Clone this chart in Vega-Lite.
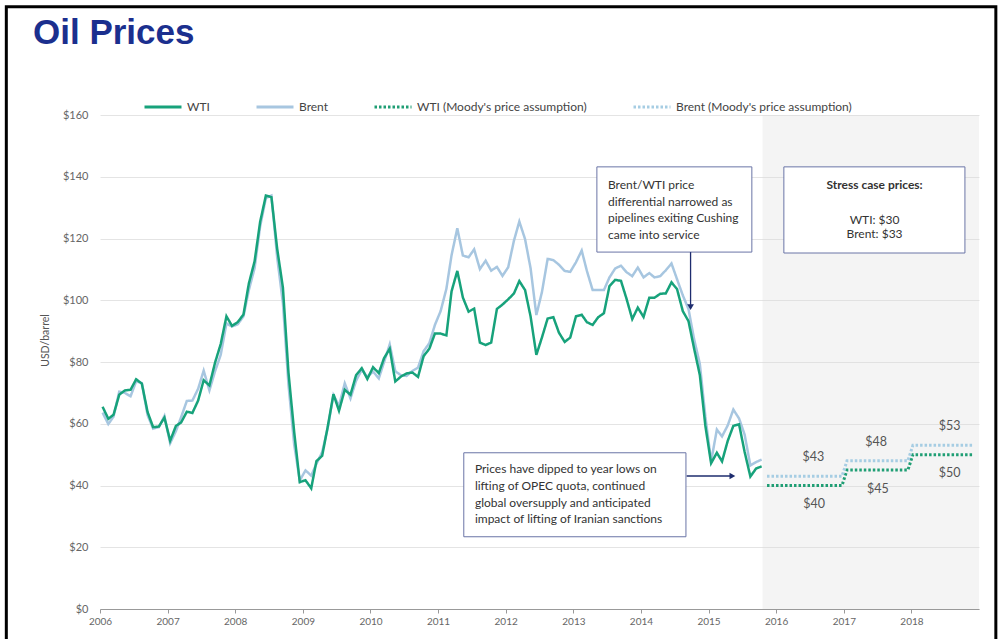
{
  "$schema": "https://vega.github.io/schema/vega-lite/v6.json",
  "width": 879,
  "height": 494,
  "autosize": "none",
  "padding": {"left": 100, "top": 115, "right": 24, "bottom": 30},
  "background": "white",
  "title": {"text": "Oil Prices", "anchor": "start", "frame": "group", "dx": -67, "offset": -74, "baseline": "alphabetic", "font": "Liberation Sans", "fontSize": 35, "fontWeight": "bold", "color": "#1b2f8e"},
  "config": {
    "view": {"stroke": null},
    "legend": {"symbolType": "stroke", "symbolSize": 1369, "symbolStrokeWidth": 3, "columnPadding": 40, "labelFont": "Lato", "labelFontSize": 12, "labelColor": "#444", "labelOffset": 4, "labelLimit": 400, "title": null}
  },
  "datasets": {
    "hist": [
      {"d":"2006-01-15","WTI":65.5,"Brent":63.6},{"d":"2006-02-15","WTI":61.6,"Brent":59.9},{"d":"2006-03-15","WTI":62.9,"Brent":62.3},{"d":"2006-04-15","WTI":69.4,"Brent":70.4},{"d":"2006-05-15","WTI":70.8,"Brent":70.0},{"d":"2006-06-15","WTI":71.0,"Brent":68.9},{"d":"2006-07-15","WTI":74.4,"Brent":73.7},{"d":"2006-08-15","WTI":73.0,"Brent":73.2},{"d":"2006-09-15","WTI":63.8,"Brent":62.8},{"d":"2006-10-15","WTI":58.9,"Brent":58.4},{"d":"2006-11-15","WTI":59.1,"Brent":58.9},{"d":"2006-12-15","WTI":62.0,"Brent":62.5},
      {"d":"2007-01-15","WTI":54.5,"Brent":53.7},{"d":"2007-02-15","WTI":59.3,"Brent":57.6},{"d":"2007-03-15","WTI":60.4,"Brent":62.1},{"d":"2007-04-15","WTI":63.9,"Brent":67.4},{"d":"2007-05-15","WTI":63.5,"Brent":67.5},{"d":"2007-06-15","WTI":67.5,"Brent":71.3},{"d":"2007-07-15","WTI":74.1,"Brent":77.2},{"d":"2007-08-15","WTI":72.4,"Brent":70.8},{"d":"2007-09-15","WTI":79.9,"Brent":77.1},{"d":"2007-10-15","WTI":85.8,"Brent":82.3},{"d":"2007-11-15","WTI":94.8,"Brent":92.5},{"d":"2007-12-15","WTI":91.7,"Brent":91.5},
      {"d":"2008-01-15","WTI":92.9,"Brent":92.2},{"d":"2008-02-15","WTI":95.4,"Brent":94.8},{"d":"2008-03-15","WTI":105.4,"Brent":103.3},{"d":"2008-04-15","WTI":112.6,"Brent":110.4},{"d":"2008-05-15","WTI":125.4,"Brent":123.9},{"d":"2008-06-15","WTI":133.9,"Brent":133.1},{"d":"2008-07-15","WTI":133.4,"Brent":133.9},{"d":"2008-08-15","WTI":116.7,"Brent":113.9},{"d":"2008-09-15","WTI":104.1,"Brent":99.1},{"d":"2008-10-15","WTI":76.6,"Brent":72.7},{"d":"2008-11-15","WTI":57.3,"Brent":53.2},{"d":"2008-12-15","WTI":41.1,"Brent":41.6},
      {"d":"2009-01-15","WTI":41.7,"Brent":44.9},{"d":"2009-02-15","WTI":39.1,"Brent":43.2},{"d":"2009-03-15","WTI":47.9,"Brent":47.0},{"d":"2009-04-15","WTI":49.6,"Brent":50.8},{"d":"2009-05-15","WTI":59.0,"Brent":58.6},{"d":"2009-06-15","WTI":69.6,"Brent":69.3},{"d":"2009-07-15","WTI":64.2,"Brent":65.8},{"d":"2009-08-15","WTI":71.0,"Brent":73.1},{"d":"2009-09-15","WTI":69.4,"Brent":68.2},{"d":"2009-10-15","WTI":75.7,"Brent":73.9},{"d":"2009-11-15","WTI":78.0,"Brent":77.5},{"d":"2009-12-15","WTI":74.5,"Brent":75.2},
      {"d":"2010-01-15","WTI":78.3,"Brent":76.9},{"d":"2010-02-15","WTI":76.4,"Brent":74.7},{"d":"2010-03-15","WTI":81.2,"Brent":79.9},{"d":"2010-04-15","WTI":84.3,"Brent":85.7},{"d":"2010-05-15","WTI":73.7,"Brent":77.0},{"d":"2010-06-15","WTI":75.3,"Brent":75.7},{"d":"2010-07-15","WTI":76.3,"Brent":75.5},{"d":"2010-08-15","WTI":76.6,"Brent":77.1},{"d":"2010-09-15","WTI":75.2,"Brent":78.2},{"d":"2010-10-15","WTI":81.9,"Brent":83.5},{"d":"2010-11-15","WTI":84.3,"Brent":86.1},{"d":"2010-12-15","WTI":89.2,"Brent":92.0},
      {"d":"2011-01-15","WTI":89.2,"Brent":96.5},{"d":"2011-02-15","WTI":88.6,"Brent":103.7},{"d":"2011-03-15","WTI":102.9,"Brent":114.6},{"d":"2011-04-15","WTI":109.5,"Brent":123.3},{"d":"2011-05-15","WTI":100.9,"Brent":114.5},{"d":"2011-06-15","WTI":96.3,"Brent":113.9},{"d":"2011-07-15","WTI":97.3,"Brent":116.5},{"d":"2011-08-15","WTI":86.3,"Brent":110.1},{"d":"2011-09-15","WTI":85.5,"Brent":112.8},{"d":"2011-10-15","WTI":86.3,"Brent":109.6},{"d":"2011-11-15","WTI":97.2,"Brent":110.8},{"d":"2011-12-15","WTI":98.6,"Brent":107.9},
      {"d":"2012-01-15","WTI":100.3,"Brent":110.7},{"d":"2012-02-15","WTI":102.2,"Brent":119.3},{"d":"2012-03-15","WTI":106.2,"Brent":125.5},{"d":"2012-04-15","WTI":103.3,"Brent":119.8},{"d":"2012-05-15","WTI":94.7,"Brent":110.3},{"d":"2012-06-15","WTI":82.3,"Brent":95.2},{"d":"2012-07-15","WTI":87.9,"Brent":102.6},{"d":"2012-08-15","WTI":94.1,"Brent":113.4},{"d":"2012-09-15","WTI":94.5,"Brent":113.0},{"d":"2012-10-15","WTI":89.5,"Brent":111.5},{"d":"2012-11-15","WTI":86.5,"Brent":109.5},{"d":"2012-12-15","WTI":87.9,"Brent":109.2},
      {"d":"2013-01-15","WTI":94.8,"Brent":112.3},{"d":"2013-02-15","WTI":95.3,"Brent":116.1},{"d":"2013-03-15","WTI":92.9,"Brent":109.5},{"d":"2013-04-15","WTI":92.0,"Brent":103.3},{"d":"2013-05-15","WTI":94.5,"Brent":103.3},{"d":"2013-06-15","WTI":95.8,"Brent":103.3},{"d":"2013-07-15","WTI":104.6,"Brent":107.4},{"d":"2013-08-15","WTI":106.6,"Brent":110.3},{"d":"2013-09-15","WTI":106.3,"Brent":111.2},{"d":"2013-10-15","WTI":100.5,"Brent":109.1},{"d":"2013-11-15","WTI":93.9,"Brent":107.8},{"d":"2013-12-15","WTI":97.6,"Brent":110.6},
      {"d":"2014-01-15","WTI":94.6,"Brent":107.4},{"d":"2014-02-15","WTI":100.8,"Brent":108.8},{"d":"2014-03-15","WTI":100.8,"Brent":107.4},{"d":"2014-04-15","WTI":102.1,"Brent":107.8},{"d":"2014-05-15","WTI":102.2,"Brent":109.7},{"d":"2014-06-15","WTI":105.8,"Brent":111.9},{"d":"2014-07-15","WTI":103.6,"Brent":106.8},{"d":"2014-08-15","WTI":96.5,"Brent":101.6},{"d":"2014-09-15","WTI":93.2,"Brent":97.1},{"d":"2014-10-15","WTI":84.4,"Brent":87.4},{"d":"2014-11-15","WTI":75.8,"Brent":79.4},{"d":"2014-12-15","WTI":59.3,"Brent":62.3},
      {"d":"2015-01-15","WTI":47.2,"Brent":47.8},{"d":"2015-02-15","WTI":50.6,"Brent":58.1},{"d":"2015-03-15","WTI":47.8,"Brent":55.9},{"d":"2015-04-15","WTI":54.5,"Brent":59.5},{"d":"2015-05-15","WTI":59.3,"Brent":64.6},{"d":"2015-06-15","WTI":59.8,"Brent":61.7},{"d":"2015-07-15","WTI":50.9,"Brent":56.5},{"d":"2015-08-15","WTI":42.9,"Brent":46.5},{"d":"2015-09-15","WTI":45.5,"Brent":47.6},{"d":"2015-10-15","WTI":46.2,"Brent":48.4}
    ],
    "proj": [
      {"d":"2015-11-13","series":"WTI (Moody's price assumption)","price":40},
      {"d":"2016-12-22","series":"WTI (Moody's price assumption)","price":40},
      {"d":"2017-01-18","series":"WTI (Moody's price assumption)","price":45},
      {"d":"2017-12-13","series":"WTI (Moody's price assumption)","price":45},
      {"d":"2018-01-09","series":"WTI (Moody's price assumption)","price":50},
      {"d":"2018-11-29","series":"WTI (Moody's price assumption)","price":50},
      {"d":"2015-11-13","series":"Brent (Moody's price assumption)","price":43},
      {"d":"2016-12-22","series":"Brent (Moody's price assumption)","price":43},
      {"d":"2017-01-18","series":"Brent (Moody's price assumption)","price":48},
      {"d":"2017-12-13","series":"Brent (Moody's price assumption)","price":48},
      {"d":"2018-01-09","series":"Brent (Moody's price assumption)","price":53},
      {"d":"2018-11-29","series":"Brent (Moody's price assumption)","price":53}
    ],
    "labels": [
      {"d":"2016-07-20","series":"Brent (Moody's price assumption)","price":43},
      {"d":"2016-07-24","series":"WTI (Moody's price assumption)","price":40},
      {"d":"2017-06-24","series":"Brent (Moody's price assumption)","price":48},
      {"d":"2017-07-04","series":"WTI (Moody's price assumption)","price":45},
      {"d":"2018-07-26","series":"Brent (Moody's price assumption)","price":53},
      {"d":"2018-07-26","series":"WTI (Moody's price assumption)","price":50}
    ],
    "forecast": [{"start":"2015-10-20","end":"2019-01-01"}]
  },
  "layer": [
    {
      "data": {"name": "forecast"},
      "mark": {"type": "rect", "fill": "#d9d9d9", "opacity": 0.3},
      "encoding": {
        "x": {"field": "start", "type": "temporal", "scale": {"domain": [{"year":2006,"month":1,"date":1},{"year":2019,"month":1,"date":1}]},
          "axis": {"values": [{"year":2006},{"year":2007},{"year":2008},{"year":2009},{"year":2010},{"year":2011},{"year":2012},{"year":2013},{"year":2014},{"year":2015},{"year":2016},{"year":2017},{"year":2018}],
            "format": "%Y", "title": null, "grid": false, "domainColor": "#999", "tickColor": "#999", "tickSize": 4, "labelFont": "Lato", "labelFontSize": 10, "labelColor": "#666", "labelPadding": 3, "labelFlush": false}},
        "x2": {"field": "end"},
        "y": {"datum": 0, "type": "quantitative", "scale": {"domain": [0, 160], "nice": false},
          "axis": {"values": [0,20,40,60,80,100,120,140,160], "format": "$,.0f", "title": "USD/barrel", "grid": true, "gridColor": "#e4e4e4", "ticks": false, "domain": false, "labelPadding": 12, "labelFont": "Lato", "labelFontSize": 11, "labelColor": "#666", "titleFont": "Lato", "titleFontSize": 10.5, "titleFontWeight": "normal", "titleColor": "#555", "titleX": -50, "titleY": 225}},
        "y2": {"datum": 160}
      }
    },
    {
      "data": {"name": "hist"},
      "transform": [{"fold": ["WTI", "Brent"], "as": ["series", "price"]}, {"filter": "datum.series == 'Brent'"}],
      "mark": {"type": "line", "strokeWidth": 2.5},
      "encoding": {
        "x": {"field": "d", "type": "temporal"},
        "y": {"field": "price", "type": "quantitative"},
        "color": {"field": "series", "type": "nominal",
          "scale": {"domain": ["WTI", "Brent", "WTI (Moody's price assumption)", "Brent (Moody's price assumption)"], "range": ["#17a27b", "#a7c6e0", "#1f9e74", "#a6cde3"]},
          "legend": {"orient": "none", "direction": "horizontal", "legendX": 43, "legendY": -28}},
        "strokeDash": {"field": "series", "type": "nominal",
          "scale": {"domain": ["WTI", "Brent", "WTI (Moody's price assumption)", "Brent (Moody's price assumption)"], "range": [[1,0],[1,0],[2.5,2],[2.5,2]]},
          "legend": {"orient": "none", "direction": "horizontal", "legendX": 43, "legendY": -28}}
      }
    },
    {
      "data": {"name": "hist"},
      "transform": [{"fold": ["WTI", "Brent"], "as": ["series", "price"]}, {"filter": "datum.series == 'WTI'"}],
      "mark": {"type": "line", "strokeWidth": 2.5},
      "encoding": {
        "x": {"field": "d", "type": "temporal"},
        "y": {"field": "price", "type": "quantitative"},
        "color": {"field": "series", "type": "nominal"},
        "strokeDash": {"field": "series", "type": "nominal"}
      }
    },
    {
      "data": {"name": "proj"},
      "mark": {"type": "line", "strokeWidth": 3},
      "encoding": {
        "x": {"field": "d", "type": "temporal"},
        "y": {"field": "price", "type": "quantitative"},
        "color": {"field": "series", "type": "nominal"},
        "strokeDash": {"field": "series", "type": "nominal"}
      }
    },
    {
      "data": {"name": "labels"},
      "transform": [{"filter": "indexof(datum.series, 'Brent') == 0"}],
      "mark": {"type": "text", "dy": -19, "font": "Lato", "fontSize": 12.5, "color": "#555"},
      "encoding": {
        "x": {"field": "d", "type": "temporal"},
        "y": {"field": "price", "type": "quantitative"},
        "text": {"field": "price", "type": "quantitative", "format": "$,.0f"}
      }
    },
    {
      "data": {"name": "labels"},
      "transform": [{"filter": "indexof(datum.series, 'WTI') == 0"}],
      "mark": {"type": "text", "dy": 18.5, "font": "Lato", "fontSize": 12.5, "color": "#555"},
      "encoding": {
        "x": {"field": "d", "type": "temporal"},
        "y": {"field": "price", "type": "quantitative"},
        "text": {"field": "price", "type": "quantitative", "format": "$,.0f"}
      }
    },
    {
      "data": {"values": [{}]},
      "mark": {"type": "rect", "fill": "white", "stroke": "#6a74a6", "strokeWidth": 1},
      "encoding": {
        "x": {"datum": {"year":2013,"month":5,"date":8}}, "x2": {"datum": {"year":2015,"month":8,"date":23}},
        "y": {"datum": 143.2}, "y2": {"datum": 115.6}
      }
    },
    {
      "data": {"values": [{}]},
      "mark": {"type": "rect", "fill": "white", "stroke": "#6a74a6", "strokeWidth": 1},
      "encoding": {
        "x": {"datum": {"year":2016,"month":2,"date":12}}, "x2": {"datum": {"year":2018,"month":10,"date":17}},
        "y": {"datum": 143.2}, "y2": {"datum": 115.3}
      }
    },
    {
      "data": {"values": [{}]},
      "mark": {"type": "rect", "fill": "white", "stroke": "#6a74a6", "strokeWidth": 1},
      "encoding": {
        "x": {"datum": {"year":2011,"month":5,"date":20}}, "x2": {"datum": {"year":2014,"month":9,"date":1}},
        "y": {"datum": 50.6}, "y2": {"datum": 23.4}
      }
    },
    {
      "data": {"values": [{}]},
      "mark": {"type": "text", "text": ["Brent/WTI price", "differential narrowed as", "pipelines exiting Cushing", "came into service"], "align": "left", "baseline": "alphabetic", "lineHeight": 16.5, "font": "Lato", "fontSize": 12, "color": "#333"},
      "encoding": {"x": {"datum": {"year":2013,"month":7,"date":7}}, "y": {"datum": 136.0}}
    },
    {
      "data": {"values": [{}]},
      "mark": {"type": "text", "text": "Stress case prices:", "align": "center", "baseline": "alphabetic", "font": "Lato", "fontSize": 12, "fontWeight": "bold", "color": "#333"},
      "encoding": {"x": {"datum": {"year":2017,"month":6,"date":16}}, "y": {"datum": 136.0}}
    },
    {
      "data": {"values": [{}]},
      "mark": {"type": "text", "text": ["WTI: $30", "Brent: $33"], "align": "center", "baseline": "alphabetic", "lineHeight": 14.5, "font": "Lato", "fontSize": 12, "color": "#333"},
      "encoding": {"x": {"datum": {"year":2017,"month":6,"date":16}}, "y": {"datum": 124.7}}
    },
    {
      "data": {"values": [{}]},
      "mark": {"type": "text", "text": ["Prices have dipped to year lows on", "lifting of OPEC quota, continued", "global oversupply and anticipated", "impact of lifting of Iranian sanctions"], "align": "left", "baseline": "alphabetic", "lineHeight": 16.7, "font": "Lato", "fontSize": 12, "color": "#333"},
      "encoding": {"x": {"datum": {"year":2011,"month":7,"date":19}}, "y": {"datum": 43.95}}
    },
    {
      "data": {"values": [{}]},
      "mark": {"type": "rule", "color": "#1e2c6e", "strokeWidth": 1.3},
      "encoding": {"x": {"datum": {"year":2014,"month":9,"date":26}}, "y": {"datum": 115.6}, "y2": {"datum": 98.5}}
    },
    {
      "data": {"values": [{}]},
      "mark": {"type": "point", "shape": "triangle-down", "filled": true, "color": "#1e2c6e", "size": 45, "opacity": 1},
      "encoding": {"x": {"datum": {"year":2014,"month":9,"date":26}}, "y": {"datum": 97.8}}
    },
    {
      "data": {"values": [{}]},
      "mark": {"type": "rule", "color": "#1e2c6e", "strokeWidth": 1.3},
      "encoding": {"x": {"datum": {"year":2014,"month":9,"date":5}}, "x2": {"datum": {"year":2015,"month":5,"date":1}}, "y": {"datum": 43.08}}
    },
    {
      "data": {"values": [{}]},
      "mark": {"type": "point", "shape": "triangle-right", "filled": true, "color": "#1e2c6e", "size": 45, "opacity": 1},
      "encoding": {"x": {"datum": {"year":2015,"month":5,"date":10}}, "y": {"datum": 43.08}}
    },
    {
      "data": {"values": [{}]},
      "mark": {"type": "rect", "fill": null, "filled": false, "stroke": "black", "strokeWidth": 3},
      "encoding": {
        "x": {"datum": {"year":2004,"month":8,"date":13}}, "x2": {"datum": {"year":2019,"month":4,"date":2}},
        "y": {"datum": 195.1}, "y2": {"datum": -15}
      }
    }
  ]
}
